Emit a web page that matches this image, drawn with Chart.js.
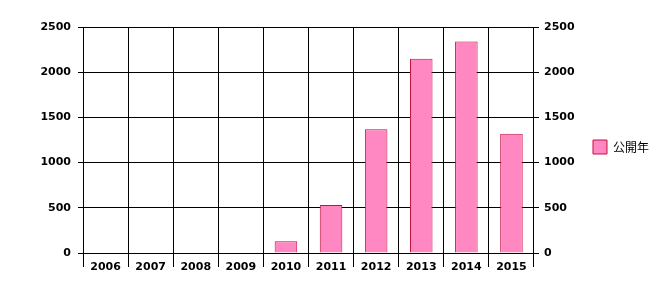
<!DOCTYPE html>
<html>
<head>
<meta charset="utf-8">
<script src="https://cdn.jsdelivr.net/npm/chart.js@4"></script>
<style>
  html, body { margin: 0; padding: 0; background: #fff; }
  #wrap { width: 669px; height: 294px; }
</style>
</head>
<body>
<div id="wrap"><canvas id="grafico" width="669" height="294"></canvas></div>
<script>
// Datos del gráfico
const years = ['2006', '2007', '2008', '2009', '2010', '2011', '2012', '2013', '2014', '2015'];
const counts = [0, 0, 0, 0, 130, 530, 1370, 2150, 2340, 1320];
const seriesName = '公開年';
const yTicks = [0, 500, 1000, 1500, 2000, 2500];

const tickFont = { family: 'DejaVu Sans', size: 11, weight: 'bold', lineHeight: 1.2 };

// Eje Y común (izquierda y derecha)
function yAxis(position, pad, width) {
    return {
        position: position,
        min: 0,
        max: 2500,
        afterBuildTicks: axis => { axis.ticks = yTicks.map(v => ({ value: v })); },
        afterFit: axis => { axis.width = width; },
        grid: {
            color: '#000',
            lineWidth: 1,
            tickLength: 5,
            drawOnChartArea: position === 'left',
            tickColor: '#000'
        },
        border: { display: true, color: '#000', width: 1 },
        ticks: { color: '#000', font: tickFont, padding: pad, callback: v => String(v) }
    };
}

const ctx = document.getElementById('grafico').getContext('2d');
new Chart(ctx, {
    type: 'bar',
    data: {
        labels: years,
        datasets: [{
            label: seriesName,
            data: counts,
            backgroundColor: '#ff88c2',
            borderColor: '#c8103c',
            borderWidth: 1,
            categoryPercentage: 1.0,
            barPercentage: 0.5
        }]
    },
    options: {
        responsive: false,
        animation: false,
        layout: { padding: { left: 0, right: 10, top: 0, bottom: 0 } },
        scales: {
            x: {
                afterFit: axis => { axis.height = 41; },
                grid: { color: '#000', lineWidth: 1, tickLength: 14, offset: true, tickColor: '#000' },
                border: { display: true, color: '#000', width: 1 },
                ticks: { color: '#000', font: tickFont, padding: -6, maxRotation: 0 }
            },
            y: yAxis('left', 7, 83),
            y2: yAxis('right', 5, 49)
        },
        plugins: {
            // título vacío para dejar el margen superior
            title: { display: true, text: '', font: { size: 27, lineHeight: 1 }, padding: 0 },
            legend: {
                position: 'right',
                labels: {
                    boxWidth: 14,
                    boxHeight: 14,
                    padding: 10,
                    color: '#000',
                    font: { family: 'Noto Sans CJK JP', size: 12 }
                }
            },
            tooltip: { enabled: false }
        }
    }
});
</script>
</body>
</html>
